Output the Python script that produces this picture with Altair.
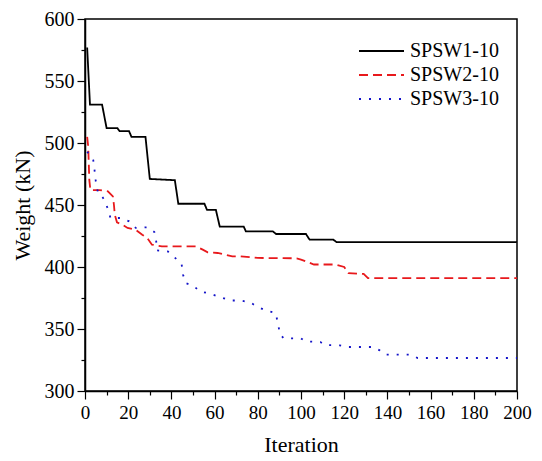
import altair as alt
import pandas as pd

series_names = ["SPSW1-10", "SPSW2-10", "SPSW3-10"]

s1_x = [1, 2.3, 7.9, 10, 15, 16, 20.4, 21.5, 28, 30, 41.6, 43.2, 55.3, 56.5, 60.6, 62.4, 73.5, 74.5, 87, 88.5, 102.3, 104, 115, 116.5, 200]
s1_y = [577, 531, 531, 512, 512, 509.5, 509.5, 505, 505, 471, 470, 451, 451, 446, 446, 432.5, 432.5, 428.7, 428.7, 426.6, 426.6, 422, 422, 420, 420]

s2_x = [1, 1.5, 2, 2.5, 6.8, 10.6, 12.9, 13.4, 13.8, 14.8, 17.4, 19.7, 23.5, 26.5, 28.8, 31, 35.6, 51.5, 54.5, 56.8, 61.4, 68.2, 72, 80, 98, 100, 106, 116, 120, 122, 129, 131, 200]
s2_y = [505, 497, 470, 462, 462, 461, 457, 450, 442, 436, 434, 431.5, 430, 426, 423.4, 418, 416.6, 416.6, 414, 411.8, 411.3, 408.6, 408.6, 407.3, 407, 406, 402, 402, 400, 395, 394.4, 391, 391]

s3_x = [1, 3.8, 4.5, 5, 6, 6.8, 9, 10.6, 11.8, 16.6, 20.4, 23.5, 28.8, 32.1, 32.9, 33.3, 38.3, 41.3, 44.7, 45.4, 46.6, 50, 53.3, 57.9, 62.4, 67.4, 72, 76.5, 79.5, 83.6, 88.2, 89.4, 90.2, 92, 100, 102, 109, 111, 118, 121, 133.3, 136.4, 139, 150.8, 154, 200]
s3_y = [493, 486.5, 477, 469, 460, 459.7, 454, 446.8, 439.5, 439.5, 436.8, 431.5, 432, 428.2, 422, 413.4, 412.6, 408, 402.7, 393.8, 387, 385, 380.3, 378.5, 375.8, 373, 373, 371.5, 368.2, 365, 362.9, 354.3, 346, 342.4, 342.4, 340, 339.5, 337, 336.8, 335.5, 335.5, 332.8, 329.3, 329.3, 326.6, 326.6]

x_major = [0, 20, 40, 60, 80, 100, 120, 140, 160, 180, 200]
x_minor = [10, 30, 50, 70, 90, 110, 130, 150, 170, 190]
y_major = [300, 350, 400, 450, 500, 550, 600]
y_minor = [325, 375, 425, 475, 525, 575]

rows = []
for name, xs, ys in zip(series_names, [s1_x, s2_x, s3_x], [s1_y, s2_y, s3_y]):
    for i, (a, b) in enumerate(zip(xs, ys)):
        rows.append({"series": name, "x": a, "y": b, "i": i})
df = pd.DataFrame(rows)

W, H = 432, 372
FONT = "Liberation Serif"

xscale = alt.Scale(domain=[0, 200], nice=False, zero=False)
yscale = alt.Scale(domain=[300, 600], nice=False, zero=False)

lines = alt.Chart(df).mark_line(strokeWidth=1.8, clip=True).encode(
    x=alt.X("x:Q", scale=xscale, title="Iteration",
            axis=alt.Axis(values=x_major, orient="bottom", tickSize=8, labelPadding=4,
                          titlePadding=12, grid=False, format="d", labelOverlap=False,
                          labelFlush=False, labelFontSize=19)),
    y=alt.Y("y:Q", scale=yscale, title="Weight (kN)",
            axis=alt.Axis(values=y_major, orient="left", tickSize=8, labelPadding=3,
                          titlePadding=10, grid=False, format="d", labelOverlap=False,
                          labelFlush=False)),
    color=alt.Color("series:N", scale=alt.Scale(domain=series_names,
                                                 range=["#000000", "#e8191c", "#1414c8"]),
                    legend=alt.Legend(title=None, orient="none", legendX=273, legendY=20,
                                      symbolType="stroke", symbolSize=2025,
                                      symbolStrokeWidth=2, labelFontSize=20, labelFont=FONT,
                                      labelColor="black", rowPadding=0, clipHeight=24,
                                      labelOffset=5, padding=0)),
    strokeDash=alt.StrokeDash("series:N", scale=alt.Scale(domain=series_names,
                                                          range=[[1, 0], [9, 5], [2, 8]]),
                              legend=None),
    order=alt.Order("i:Q"),
)

xminor_df = pd.DataFrame({"x": x_minor})
yminor_df = pd.DataFrame({"y": y_minor})

xmin = alt.Chart(xminor_df).mark_tick(opacity=0).encode(
    x=alt.X("x:Q", scale=xscale, title=None,
            axis=alt.Axis(values=x_minor, orient="bottom", tickSize=4, labels=False,
                          domain=False, grid=False)),
)
ymin = alt.Chart(yminor_df).mark_tick(opacity=0).encode(
    y=alt.Y("y:Q", scale=yscale, title=None,
            axis=alt.Axis(values=y_minor, orient="left", tickSize=4, labels=False,
                          domain=False, grid=False)),
)

chart = alt.layer(lines, xmin, ymin).resolve_axis(
    x="independent", y="independent"
).properties(
    width=W, height=H, background="white",
    autosize=alt.AutoSizeParams(type="none"),
    padding={"left": 77, "top": 11, "right": 17, "bottom": 72},
).configure_view(
    stroke="black", strokeWidth=1.5
).configure_axis(
    domainColor="black", domainWidth=1.5, tickColor="black", tickWidth=1.2,
    labelFont=FONT, labelFontSize=20, labelColor="black",
    titleFont=FONT, titleFontSize=22, titleFontWeight="normal", titleColor="black",
)

chart.save("out.html", embed_options={"renderer": "svg", "actions": False})
